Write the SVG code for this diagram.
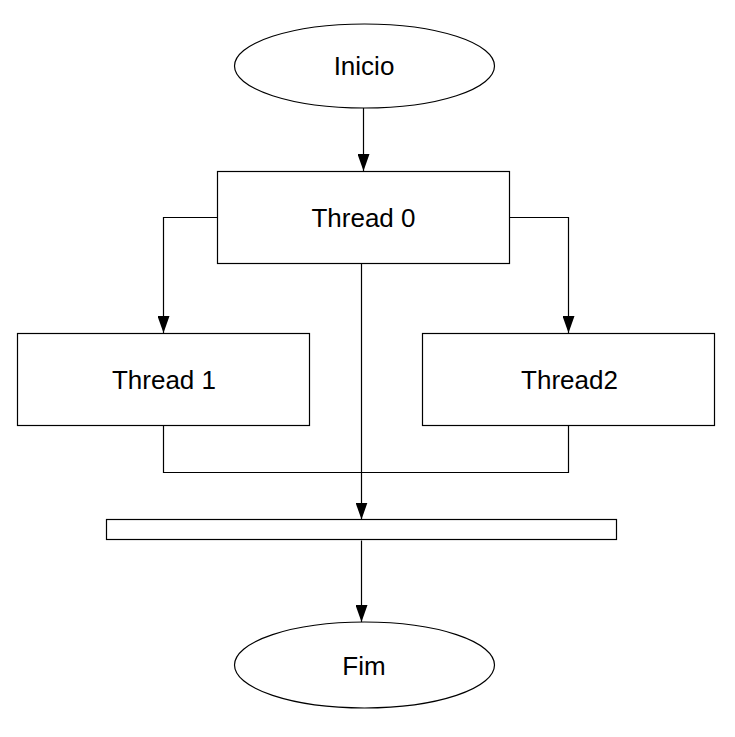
<svg xmlns="http://www.w3.org/2000/svg" width="735" height="737" viewBox="0 0 735 737">
<style>
.shape{fill:#fff;stroke:#000;stroke-width:1.2}
.lbl{font-family:"Liberation Sans",Arial,sans-serif;font-size:26px;fill:#000;text-anchor:middle}
.conn{fill:none;stroke:#000;stroke-width:1.2}
</style>
<defs>
<marker id="arr" markerWidth="17" markerHeight="12" refX="17" refY="6" orient="auto" markerUnits="userSpaceOnUse" viewBox="0 0 17 12">
<path d="M0,0 L17,6 L0,12 Z" fill="#000"/>
</marker>
</defs>
<rect width="735" height="737" fill="#fff"/>
<g id="connectors">
<path class="conn" d="M363.5,108 V171" marker-end="url(#arr)"/>
<path class="conn" d="M217.5,217.5 H163.5 V333" marker-end="url(#arr)"/>
<path class="conn" d="M509.5,217.5 H568.5 V333" marker-end="url(#arr)"/>
<path class="conn" d="M361.5,263.5 V519.5" marker-end="url(#arr)"/>
<path class="conn" d="M163.5,426 V472.5 H568.5 V426"/>
<path class="conn" d="M361.5,540.5 V622" marker-end="url(#arr)"/>
</g>
<g id="inicio">
<ellipse class="shape" cx="364.5" cy="66" rx="130" ry="42"/>
<text class="lbl" x="364" y="75">Inicio</text>
</g>
<g id="thread0">
<rect class="shape" x="217.5" y="171.5" width="292" height="92"/>
<text class="lbl" x="363.5" y="227">Thread 0</text>
</g>
<g id="thread1">
<rect class="shape" x="17.5" y="333.5" width="292" height="92"/>
<text class="lbl" x="164" y="389">Thread 1</text>
</g>
<g id="thread2">
<rect class="shape" x="422.5" y="333.5" width="292" height="92"/>
<text class="lbl" x="569.5" y="389">Thread2</text>
</g>
<g id="join">
<rect class="shape" x="106.5" y="519.5" width="510" height="20"/>
</g>
<g id="fim">
<ellipse class="shape" cx="364.5" cy="665" rx="130" ry="43"/>
<text class="lbl" x="364" y="675">Fim</text>
</g>
</svg>
